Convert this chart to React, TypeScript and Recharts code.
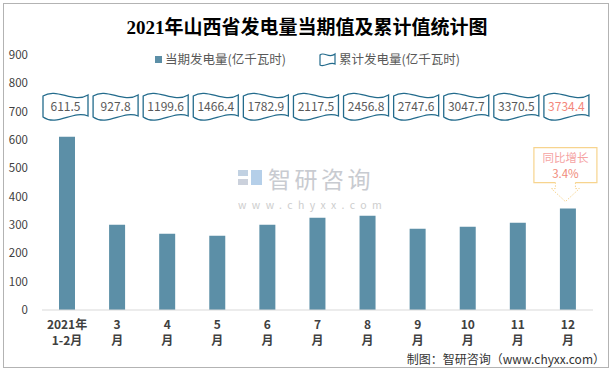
import { Bar, BarChart, LabelList, XAxis, YAxis } from "recharts";

const categories = ["2021年1-2月", "3月", "4月", "5月", "6月", "7月", "8月", "9月", "10月", "11月", "12月"];
const monthly = [611.5, 301, 269, 262, 301, 326, 333, 287, 294, 308, 358];
const cumulative = [611.5, 927.8, 1199.6, 1466.4, 1782.9, 2117.5, 2456.8, 2747.6, 3047.7, 3370.5, 3734.4];
const yTicks = [0, 100, 200, 300, 400, 500, 600, 700, 800, 900];
const growthTitle = "同比增长";
const growthValue = "3.4%";

const data = categories.map((name, i) => ({ name, monthly: monthly[i], cumulative: cumulative[i] }));

const BAR = "#5c8fa7";
const FLAG = "#236b8c";
const FONT = '"Noto Sans CJK SC", "Noto Sans", sans-serif';
const FLAG_TOP = 96;

function XTick({ x, y, payload }: any) {
  const s: string = payload.value;
  let l1 = s.slice(0, -1);
  let l2 = "月";
  if (s.includes("年")) {
    const i = s.indexOf("年") + 1;
    l1 = s.slice(0, i);
    l2 = s.slice(i);
  }
  return (
    <g fontFamily={FONT} fontSize={12} fontWeight="bold" fill="#404040">
      <text x={x} y={y + 19} textAnchor="middle">{l1}</text>
      <text x={x} y={y + 35} textAnchor="middle">{l2}</text>
    </g>
  );
}

function flagShape(x0: number, t: number) {
  return `M${x0},${t} C${x0 + 14},${t - 9} ${x0 + 30},${t + 8} ${x0 + 45},${t - 1} L${x0 + 45},${t + 20} C${x0 + 30},${t + 14} ${x0 + 14},${t + 31} ${x0},${t + 21} Z`;
}

function FlagLabel(props: any) {
  const vb = props.viewBox ?? props;
  const idx = categories.indexOf(props.value);
  if (idx < 0) return null;
  const cx = vb.x + vb.width / 2;
  const x0 = cx - 24;
  const last = idx === categories.length - 1;
  const top = vb.y;
  const cc = cx - 2.5;
  const rL = cc - 31.5;
  const rR = cc + 31.5;
  const rT = top - 61;
  const rB = top - 26;
  return (
    <g>
      <path d={flagShape(x0, FLAG_TOP)} fill="#fff" stroke={FLAG} strokeWidth={1.3} />
      <text
        x={x0 + 22.5}
        y={FLAG_TOP + 15}
        textAnchor="middle"
        fontFamily={FONT}
        fontSize={12}
        fill={last ? "#f4877a" : "#595959"}
      >
        {cumulative[idx]}
      </text>
      {last && (
        <g>
          <path
            d={`M${rL},${rT} H${rR} V${rB} H${cc + 10} V${top - 20} H${cc + 14} L${cc},${top - 7} L${cc - 14},${top - 20} H${cc - 10} V${rB} H${rL} Z`}
            fill="#fff"
            stroke="none"
          />
          <path d={`M${cc - 10},${rB} H${rL} V${rT} H${rR} V${rB} H${cc + 10}`} fill="none" stroke="#f7d48e" strokeWidth={1.2} />
          <path
            d={`M${cc + 10},${rB} V${top - 20} H${cc + 14} L${cc},${top - 7} L${cc - 14},${top - 20} H${cc - 10} V${rB}`}
            fill="none"
            stroke="#f7d48e"
            strokeWidth={1}
            strokeDasharray="1.5 1.5"
          />
          <text x={cc} y={rT + 14} textAnchor="middle" fontFamily={FONT} fontSize={11.5} fill="#f5a3a3">
            {growthTitle}
          </text>
          <text x={cc} y={rT + 30} textAnchor="middle" fontFamily={FONT} fontSize={11.5} fill="#f08a7a">
            {growthValue}
          </text>
        </g>
      )}
    </g>
  );
}

export default function App() {
  return (
    <div style={{ position: "relative", width: 614, height: 372, background: "#fff", fontFamily: FONT }}>
      <style>{`body{margin:0}`}</style>
      <div
        style={{
          position: "absolute",
          left: 3,
          top: 3,
          width: 606,
          height: 365,
          border: "1px solid #b3b3b3",
          boxSizing: "border-box",
        }}
      />
      <svg width={614} height={372} style={{ position: "absolute", left: 0, top: 0, pointerEvents: "none" }}>
        <text
          x={307}
          y={34}
          textAnchor="middle"
          fontFamily={'"Liberation Serif", "Noto Sans CJK SC", serif'}
          fontSize={19}
          fontWeight="bold"
          fill="#000"
        >
          2021年山西省发电量当期值及累计值统计图
        </text>
        {/* legend */}
        <rect x={155} y={56} width={7} height={7} fill={BAR} />
        <text x={165} y={64} fontFamily={FONT} fontSize={12.5} fill="#595959">当期发电量(亿千瓦时)</text>
        <path d="M320,55 C324,51 329,59 335,54 L335,64 C330,61 324,68 320,65 Z" fill="#fff" stroke={FLAG} strokeWidth={1.2} />
        <text x={339} y={64} fontFamily={FONT} fontSize={12.5} fill="#595959">累计发电量(亿千瓦时)</text>
        {/* watermark */}
        <g opacity={0.85}>
          <rect x={238} y={170} width={10} height={6} fill="#b7c9de" />
          <rect x={238} y={179} width={10} height={6} fill="#c3cad6" />
          <rect x={251} y={170} width={11} height={15} fill="#a9c7e6" />
          <text x={268} y={188} fontFamily={FONT} fontSize={23} fill="#bfc3c9" letterSpacing={3.5}>
            智研咨询
          </text>
          <text x={238} y={209} fontFamily={FONT} fontSize={10.5} fill="#c6c6c6" letterSpacing={5.4}>
            www.chyxx.com
          </text>
        </g>
        <text x={605} y={364} textAnchor="end" fontFamily={FONT} fontSize={12} fill="#333">
          制图：智研咨询（www.chyxx.com）
        </text>
      </svg>
      <BarChart
        width={614}
        height={372}
        data={data}
        margin={{ top: 55, right: 21, bottom: 32, left: 4 }}
        style={{ position: "absolute", left: 0, top: 0 }}
      >
        <XAxis
          dataKey="name"
          interval={0}
          height={30}
          tickLine={false}
          tickSize={0}
          tickMargin={0}
          axisLine={{ stroke: "#d9d9d9" }}
          tick={<XTick />}
        />
        <YAxis
          domain={[0, 900]}
          ticks={yTicks}
          width={38}
          axisLine={false}
          tickLine={false}
          tickSize={0}
          tickMargin={14}
          tick={{ fontSize: 11.5, fill: "#404040", fontFamily: FONT }}
        />
        <Bar dataKey="monthly" fill={BAR} barSize={16} isAnimationActive={false}>
          <LabelList dataKey="name" content={<FlagLabel />} />
        </Bar>
      </BarChart>
    </div>
  );
}
